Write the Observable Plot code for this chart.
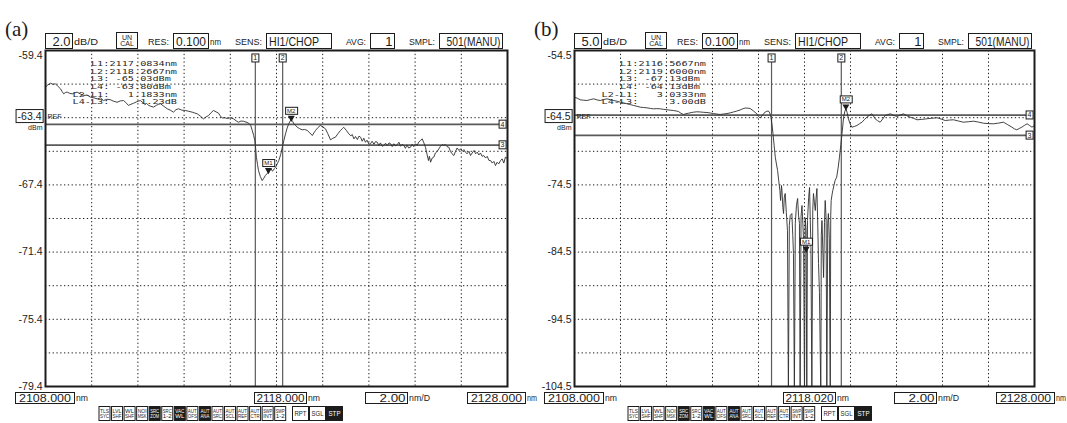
<!DOCTYPE html>
<html>
<head>
<meta charset="utf-8">
<script src="https://cdn.jsdelivr.net/npm/d3@7"></script>
<script src="https://cdn.jsdelivr.net/npm/@observablehq/plot@0.6"></script>
<style>
  body { margin: 0; background: #fff; }
  #wrap { position: relative; width: 1067px; height: 423px; overflow: hidden; background: #fff; }
  .panel { position: absolute; top: 0; }
</style>
</head>
<body>
<div id="wrap"></div>
<script>
// ---------- Sweep settings shared by both spectra ----------
const xStart = 2108;   // nm
const xStop = 2128;    // nm
const spanPerDiv = 2;  // nm/D

// ---------- Spectrum (a): 2.0 dB/D, top -59.4 dBm, REF -63.4 dBm ----------
const wlA = [2108.00,2108.10,2108.22,2108.33,2108.43,2108.55,2108.65,2108.72,2108.79,2108.86,2108.94,2109.05,2109.16,2109.26,2109.37,2109.50,2109.65,2109.80,2109.95,2110.10,2110.24,2110.38,2110.51,2110.66,2110.81,2110.95,2111.10,2111.24,2111.38,2111.48,2111.59,2111.70,2111.81,2111.95,2112.05,2112.11,2112.20,2112.30,2112.38,2112.46,2112.56,2112.68,2112.80,2112.90,2112.98,2113.10,2113.18,2113.27,2113.40,2113.54,2113.65,2113.76,2113.90,2114.06,2114.20,2114.35,2114.46,2114.57,2114.70,2114.84,2114.95,2115.06,2115.17,2115.27,2115.38,2115.49,2115.57,2115.65,2115.76,2115.87,2116.00,2116.14,2116.25,2116.35,2116.46,2116.57,2116.68,2116.79,2116.88,2116.95,2117.01,2117.06,2117.10,2117.13,2117.18,2117.22,2117.30,2117.38,2117.45,2117.52,2117.58,2117.65,2117.71,2117.77,2117.82,2117.86,2117.91,2117.96,2118.03,2118.10,2118.18,2118.25,2118.32,2118.39,2118.46,2118.53,2118.59,2118.64,2118.70,2118.75,2118.82,2118.90,2119.00,2119.11,2119.22,2119.33,2119.44,2119.55,2119.62,2119.69,2119.80,2119.90,2120.00,2120.12,2120.22,2120.34,2120.44,2120.55,2120.66,2120.77,2120.85,2120.91,2121.02,2121.13,2121.22,2121.28,2121.35,2121.42,2121.50,2121.57,2121.64,2121.71,2121.78,2121.85,2121.92,2122.00,2122.07,2122.14,2122.22,2122.29,2122.36,2122.43,2122.50,2122.58,2122.65,2122.72,2122.80,2122.87,2122.94,2123.01,2123.08,2123.16,2123.23,2123.30,2123.37,2123.44,2123.51,2123.58,2123.65,2123.72,2123.80,2123.87,2123.94,2124.02,2124.09,2124.16,2124.24,2124.31,2124.38,2124.45,2124.52,2124.58,2124.62,2124.67,2124.74,2124.81,2124.88,2124.96,2125.03,2125.10,2125.17,2125.24,2125.31,2125.38,2125.46,2125.53,2125.60,2125.68,2125.75,2125.82,2125.90,2125.97,2126.04,2126.11,2126.18,2126.25,2126.33,2126.40,2126.47,2126.55,2126.62,2126.69,2126.76,2126.83,2126.90,2126.97,2127.05,2127.12,2127.20,2127.27,2127.34,2127.41,2127.48,2127.55,2127.62,2127.70,2127.77,2127.84,2127.91,2128.00];
const dbA = [-61.58,-61.45,-61.35,-61.42,-61.38,-61.55,-61.68,-61.85,-61.98,-61.90,-61.88,-61.95,-61.98,-61.92,-61.88,-61.98,-62.08,-62.05,-62.18,-62.22,-62.28,-62.22,-62.38,-62.30,-62.33,-62.42,-62.48,-62.40,-62.38,-62.50,-62.67,-62.60,-62.54,-62.45,-62.40,-62.38,-62.48,-62.62,-62.55,-62.67,-62.72,-62.77,-62.66,-62.60,-62.57,-62.70,-62.78,-62.87,-62.95,-63.07,-62.92,-62.87,-62.95,-62.97,-63.02,-63.07,-63.12,-63.17,-63.30,-63.47,-63.35,-63.27,-63.10,-62.97,-63.05,-63.13,-63.30,-63.42,-63.40,-63.45,-63.40,-63.47,-63.58,-63.67,-63.60,-63.61,-63.66,-63.72,-63.85,-64.16,-64.45,-64.76,-65.25,-65.75,-66.20,-66.54,-66.90,-67.14,-67.00,-66.84,-66.75,-66.64,-66.50,-66.44,-66.58,-66.54,-66.42,-66.35,-66.15,-65.95,-65.60,-65.16,-64.75,-64.36,-64.02,-63.76,-63.60,-63.53,-63.62,-63.76,-63.85,-63.97,-64.05,-64.12,-64.10,-64.16,-64.30,-64.46,-64.30,-64.16,-63.98,-63.86,-63.95,-64.06,-64.35,-64.72,-64.62,-64.56,-64.35,-64.16,-64.05,-63.97,-64.15,-64.36,-64.48,-64.40,-64.66,-64.52,-64.70,-64.50,-64.56,-64.80,-64.62,-64.86,-64.74,-64.98,-64.95,-64.80,-64.98,-64.82,-64.86,-65.05,-64.90,-65.10,-65.05,-64.92,-65.06,-64.90,-64.95,-65.12,-64.95,-65.08,-65.00,-64.86,-65.10,-64.98,-65.05,-65.22,-65.02,-65.20,-65.16,-64.98,-65.12,-64.95,-65.05,-64.85,-64.75,-64.66,-64.90,-65.16,-65.60,-65.95,-65.70,-66.05,-65.80,-65.75,-65.50,-65.40,-65.25,-65.10,-65.00,-65.05,-65.00,-65.12,-65.16,-65.40,-65.55,-65.65,-65.40,-65.20,-65.35,-65.25,-65.40,-65.30,-65.45,-65.55,-65.40,-65.65,-65.50,-65.35,-65.55,-65.45,-65.62,-65.50,-65.70,-65.65,-65.80,-65.70,-65.95,-65.95,-66.10,-66.00,-66.25,-66.05,-66.15,-65.95,-65.85,-66.10,-65.75,-65.83];
const cursorWlA = [2117.0834, 2118.2667];   // L1, L2 (nm)
const cursorDbA = [-65.03, -63.80];         // L3, L4 (dBm)
const markerWlA = [2117.65, 2118.64];       // M1, M2 (nm)
const markerDbA = [-66.64, -63.53];         // M1, M2 (dBm)

// ---------- Spectrum (b): 5.0 dB/D, top -54.5 dBm, REF -64.5 dBm ----------
const wlB = [2108.00,2108.12,2108.25,2108.40,2108.54,2108.70,2108.83,2108.98,2109.12,2109.27,2109.41,2109.56,2109.70,2109.85,2109.99,2110.14,2110.28,2110.43,2110.57,2110.72,2110.86,2111.00,2111.15,2111.30,2111.43,2111.58,2111.73,2111.88,2112.02,2112.16,2112.30,2112.42,2112.52,2112.63,2112.74,2112.85,2112.96,2113.07,2113.17,2113.32,2113.47,2113.62,2113.76,2113.90,2114.04,2114.18,2114.33,2114.48,2114.63,2114.77,2114.91,2115.05,2115.20,2115.31,2115.42,2115.53,2115.64,2115.78,2115.93,2116.00,2116.07,2116.18,2116.29,2116.36,2116.43,2116.49,2116.54,2116.59,2116.63,2116.68,2116.73,2116.78,2116.83,2116.88,2116.93,2116.96,2117.00,2117.02,2117.06,2117.09,2117.12,2117.16,2117.21,2117.26,2117.30,2117.34,2117.38,2117.45,2117.49,2117.52,2117.56,2117.60,2117.65,2117.70,2117.74,2117.78,2117.81,2117.85,2117.89,2117.93,2117.96,2118.00,2118.03,2118.07,2118.10,2118.13,2118.18,2118.22,2118.25,2118.28,2118.32,2118.36,2118.39,2118.43,2118.47,2118.50,2118.54,2118.58,2118.61,2118.65,2118.71,2118.73,2118.76,2118.80,2118.83,2118.87,2118.90,2118.94,2118.97,2119.01,2119.04,2119.08,2119.12,2119.14,2119.16,2119.20,2119.23,2119.28,2119.33,2119.40,2119.46,2119.52,2119.58,2119.63,2119.70,2119.75,2119.80,2119.85,2119.91,2119.98,2120.06,2120.17,2120.28,2120.39,2120.50,2120.60,2120.71,2120.82,2120.93,2121.00,2121.07,2121.18,2121.29,2121.40,2121.51,2121.62,2121.73,2121.88,2122.02,2122.16,2122.30,2122.45,2122.60,2122.75,2122.89,2123.10,2123.32,2123.54,2123.76,2123.94,2124.12,2124.30,2124.48,2124.70,2124.91,2125.13,2125.35,2125.56,2125.78,2126.00,2126.22,2126.44,2126.65,2126.84,2127.02,2127.12,2127.23,2127.34,2127.45,2127.56,2127.68,2127.78,2127.89,2128.00];
const dbB = [-61.45,-61.60,-61.84,-61.90,-61.94,-61.80,-61.69,-61.85,-61.94,-61.80,-61.69,-61.82,-61.94,-62.05,-62.19,-62.30,-62.43,-62.55,-62.68,-62.80,-62.94,-62.98,-63.03,-63.12,-63.18,-63.15,-63.18,-63.26,-63.32,-63.38,-63.43,-63.50,-63.58,-63.85,-64.02,-63.90,-63.83,-63.74,-63.68,-63.62,-63.65,-63.70,-63.73,-63.80,-63.88,-63.95,-64.02,-63.95,-63.88,-63.78,-63.65,-63.52,-63.35,-63.18,-63.06,-63.08,-63.13,-63.50,-63.92,-64.30,-64.54,-64.10,-63.65,-63.55,-63.50,-63.80,-64.43,-65.60,-66.90,-68.60,-70.38,-71.40,-72.35,-73.90,-75.33,-76.82,-74.60,-75.33,-77.90,-78.76,-76.40,-75.78,-78.60,-81.29,-106,-80.50,-79.05,-78.76,-82.00,-84.71,-106,-80.20,-77.57,-76.52,-79.00,-80.24,-106,-79.20,-77.57,-80.30,-82.77,-106,-79.40,-81.29,-106,-79.80,-76.40,-74.89,-79.60,-83.82,-106,-78.20,-75.78,-77.10,-78.31,-76.60,-75.04,-80.90,-86.20,-90.50,-106,-82.00,-79.80,-84.60,-88.28,-80.10,-76.82,-79.50,-106,-80.20,-78.76,-82.50,-106,-79.00,-76.82,-75.90,-75.33,-74.60,-73.85,-73.35,-72.00,-70.38,-68.50,-66.90,-64.43,-63.60,-63.13,-63.70,-64.66,-65.40,-65.91,-65.80,-65.66,-65.40,-65.17,-64.80,-64.43,-64.15,-63.92,-64.25,-64.66,-64.95,-65.17,-64.70,-64.17,-64.05,-63.92,-64.15,-64.32,-64.10,-63.92,-64.20,-64.43,-64.60,-64.81,-64.75,-64.66,-64.58,-64.51,-64.70,-64.92,-64.85,-64.81,-65.00,-65.17,-65.10,-65.02,-65.15,-65.32,-65.38,-65.41,-65.30,-65.17,-65.55,-65.91,-66.15,-66.30,-66.10,-65.91,-65.65,-65.41,-65.65,-65.91,-65.66];
const cursorWlB = [2116.5667, 2119.6000];
const cursorDbB = [-67.13, -64.13];
const markerWlB = [2118.07, 2119.80];
const markerDbB = [-84.3, -63.13];

// ---------- Instrument readouts ----------
const panelTags = ["(a)", "(b)"];
const levelScales = [2.0, 5.0];          // dB/D
const topLevels = [-59.4, -54.5];        // dBm
const refLevels = [-63.4, -64.5];        // dBm
const centerLabels = ["2118.000", "2118.020"];
const resolution = "0.100";
const sensitivity = "HI1/CHOP";
const averaging = "1";
const sampling = "501(MANU)";
const softKeys = [["TLS","SYC"],["LVL","SHF"],["WL","SHF"],["NOI","MSK"],["SRC","ZOM"],["SRC","1-2"],["VAC","WL"],["AUT","OFS"],["AUT","ANA"],["AUT","SRC"],["AUT","SCL"],["AUT","REF"],["AUT","CTR"],["SWP","INT"],["SWP","1-2"]];
const softKeysLit = [4, 6, 8];
const runKeys = ["RPT", "SGL", "STP"];

const INK = "#1c1c1c";
const UI = "'Liberation Sans', Arial, sans-serif";
const MONO = "'DejaVu Sans Mono', 'Liberation Mono', monospace";
const nb = s => s.replace(/ /g, "\u00a0");

function readout(wl, db) {
  const [l1, l2] = wl, [l3, l4] = db;
  return [
    `   L1:${l1.toFixed(4)}nm`,
    `   L2:${l2.toFixed(4)}nm`,
    `   L3: ${l3.toFixed(2)}dBm`,
    `   L4: ${l4.toFixed(2)}dBm`,
    `L2-L1:   ${(l2 - l1).toFixed(4)}nm`,
    `L4-L3:     ${(l4 - l3).toFixed(2)}dB`
  ].map(nb).join("\n");
}

function spectrum(cfg) {
  const {wl, db, top, div, ref, cWl, cDb, mWl, mDb, width, marginRight} = cfg;
  const bottom = +(top - 10 * div).toFixed(1);
  const trace = wl.map((w, i) => ({w, p: db[i]}));
  const gridX = d3.range(1, 10).map(i => xStart + i * spanPerDiv);
  const gridY = d3.range(1, 10).map(i => +(top - i * div).toFixed(1));
  const levels = d3.range(0, 11, 2).map(i => +(top - i * div).toFixed(1));
  const markers = mWl.map((w, i) => ({w, p: mDb[i], name: "M" + (i + 1)}));
  const dots = {stroke: INK, strokeWidth: 1, strokeDasharray: "1.3,2.5"};

  return Plot.plot({
    width, height: 423,
    marginLeft: 45, marginRight, marginTop: 50, marginBottom: 37,
    style: {background: "transparent", overflow: "visible", color: INK, fontFamily: UI},
    x: {domain: [xStart, xStop], axis: null},
    y: {domain: [bottom, top], axis: null},
    marks: [
      Plot.ruleX(gridX, dots),
      Plot.ruleY(gridY, dots),
      // wavelength cursors L1/L2 and level cursors L3/L4
      Plot.ruleX(cWl, {stroke: "#5a5a5a", strokeWidth: 1.2, insetTop: 9}),
      Plot.ruleY(cDb, {stroke: "#5a5a5a", strokeWidth: 1.7, insetRight: 5}),
      Plot.line(trace, {x: "w", y: "p", stroke: "#2e2e2e", strokeWidth: 0.9, clip: true}),
      Plot.frame({stroke: INK, strokeWidth: 2}),
      // level scale
      Plot.text(levels.filter(v => v !== top && v !== ref), {y: d => d, text: d => d.toFixed(1), frameAnchor: "left", textAnchor: "end", dx: -3, fontSize: 10.5}),
      Plot.text([top], {y: d => d, text: d => d.toFixed(1), frameAnchor: "left", textAnchor: "end", dx: -3, dy: 5, fontSize: 10.5}),
      Plot.text([ref], {y: d => d, text: d => d.toFixed(1), frameAnchor: "left", textAnchor: "end", dx: -4, dy: -1, fontSize: 10.5, ariaDescription: "boxed"}),
      Plot.text([ref], {y: d => d, text: () => "dBm", frameAnchor: "left", textAnchor: "end", dx: -3, dy: 10, fontSize: 7}),
      Plot.text([ref], {y: d => d, text: () => "REF", frameAnchor: "left", textAnchor: "start", dx: 2, dy: -1, fontSize: 7}),
      // cursor tags
      Plot.text(cWl, {x: d => d, text: (d, i) => String(i + 1), frameAnchor: "top", dy: 5, fontSize: 7, ariaDescription: "boxed"}),
      Plot.text(cDb, {y: d => d, text: (d, i) => String(i + 3), frameAnchor: "right", dx: -3, fontSize: 7, ariaDescription: "boxed"}),
      // peak/dip markers
      Plot.dot(markers, {x: "w", y: "p", symbol: "triangle", rotate: 180, r: 2.6, fill: INK, dy: -2}),
      Plot.text(markers, {x: "w", y: "p", text: "name", dy: -9, fontSize: 6, ariaDescription: "boxed"}),
      // cursor readout
      Plot.text([readout(cWl, cDb)], {text: d => d, frameAnchor: "top-left", textAnchor: "start", lineAnchor: "top", dx: 27, dy: 10, lineHeight: 1.16, fontFamily: MONO, fontSize: 6.6, fill: "#2a2a2a", ariaDescription: "readout"})
    ]
  });
}

function boxTexts(svg) {
  d3.select(svg).selectAll('g[aria-description="boxed"] text').each(function () {
    const b = this.getBBox();
    d3.select(this.parentNode).insert("rect", () => this)
      .attr("transform", this.getAttribute("transform"))
      .attr("x", b.x - 1.5).attr("y", b.y - 0.5)
      .attr("width", b.width + 3).attr("height", b.height + 1)
      .attr("fill", "#fff").attr("stroke", INK).attr("stroke-width", 1);
  });
  // the instrument's readout font is wide: stretch the monospace text sideways
  d3.select(svg).selectAll('g[aria-description="readout"] text').each(function () {
    const b = this.getBBox();
    const t = this.getAttribute("transform") || "";
    this.setAttribute("transform", `${t} translate(${b.x},0) scale(1.55,1) translate(${-b.x},0)`);
  });
}

function chrome(svg, k) {
  const g = d3.select(svg).append("g").attr("font-family", UI).attr("fill", INK);
  const txt = (x, y, s, size, o = {}) => {
    const t = g.append("text").attr("x", x).attr("y", y).attr("dy", "0.35em")
      .attr("font-size", size).attr("text-anchor", o.anchor ?? "start")
      .attr("fill", o.fill ?? INK).text(s);
    if (o.family) t.attr("font-family", o.family);
    if (o.fit) t.attr("textLength", o.fit).attr("lengthAdjust", "spacingAndGlyphs");
    return t;
  };
  const box = (x, y, w, h, lines, o = {}) => {
    g.append("rect").attr("x", x + 0.5).attr("y", y + 0.5).attr("width", w).attr("height", h)
      .attr("fill", o.inverse ? INK : "#fff").attr("stroke", INK).attr("stroke-width", o.sw ?? 1);
    const size = o.size ?? 11, a = o.anchor ?? "middle";
    const tx = a === "end" ? x + w - 1.5 : a === "start" ? x + 3 : x + w / 2 + 0.5;
    const n = lines.length, lh = o.lh ?? size;
    lines.forEach((s, i) => txt(tx, y + h / 2 + 0.5 + (i - (n - 1) / 2) * lh, s, size,
      {anchor: a, fill: o.inverse ? "#fff" : INK, fit: o.fit}));
  };

  txt(5, 29, panelTags[k], 21, {family: "'Liberation Serif', 'Times New Roman', serif"});

  // header
  box(45, 33, 27, 15, [levelScales[k].toFixed(1)], {size: 13, anchor: "end", fit: 18});
  txt(74, 41.5, "dB/D", 9.5, {fit: 24});
  box(116, 32, 21, 16, ["UN", "CAL"], {size: 7, lh: 6.5});
  txt(148, 41.5, "RES:", 9.5, {fit: 21});
  box(173, 33, 35, 15, [resolution], {size: 13, fit: 30});
  txt(210, 41.5, "nm", 9.5, {fit: 11});
  txt(235, 41.5, "SENS:", 9.5, {fit: 27});
  box(266, 33, 65, 15, [sensitivity], {size: 13, anchor: "start", fit: 50});
  txt(346, 41.5, "AVG:", 9.5, {fit: 20});
  box(370, 33, 24, 15, [averaging], {size: 13, anchor: "end"});
  txt(409, 41.5, "SMPL:", 9.5, {fit: 26});
  box(439, 33, 63, 15, [sampling], {size: 13, anchor: "end", fit: 54});

  // footer: start / center / span / stop
  box(15, 392, 59, 11, [xStart.toFixed(3)], {size: 11, fit: 52});
  txt(76, 398, "nm", 9, {fit: 12});
  box(254, 392, 52, 11, [centerLabels[k]], {size: 11, fit: 48});
  txt(308, 398, "nm", 9, {fit: 12});
  box(365, 392, 42, 11, [spanPerDiv.toFixed(2)], {size: 11, anchor: "end", fit: 26});
  txt(409, 398, "nm/D", 9, {fit: 21});
  box(467, 392, 58, 11, [xStop.toFixed(3)], {size: 11, fit: 51});
  txt(527, 398, "nm", 8.5, {fit: 10});

  // soft keys
  softKeys.forEach((lines, i) => box(98.5 + i * 12.55, 406, 11, 14, lines,
    {size: 6, lh: 5.6, inverse: softKeysLit.includes(i), fit: 9}));
  runKeys.forEach((s, i) => box(292 + i * 17, 406, 16, 14, [s],
    {size: 7, inverse: i === runKeys.length - 1, fit: 12}));
}

const wrap = document.getElementById("wrap");
const panels = [
  {left: 0, width: 545, marginRight: 38, wl: wlA, db: dbA, cWl: cursorWlA, cDb: cursorDbA, mWl: markerWlA, mDb: markerDbA},
  {left: 529, width: 538, marginRight: 33, wl: wlB, db: dbB, cWl: cursorWlB, cDb: cursorDbB, mWl: markerWlB, mDb: markerDbB}
];
panels.forEach((p, k) => {
  const svg = spectrum({...p, top: topLevels[k], div: levelScales[k], ref: refLevels[k]});
  const holder = document.createElement("div");
  holder.className = "panel";
  holder.style.left = p.left + "px";
  holder.appendChild(svg);
  wrap.appendChild(holder);
  boxTexts(svg);
  chrome(svg, k);
});
</script>
</body>
</html>
